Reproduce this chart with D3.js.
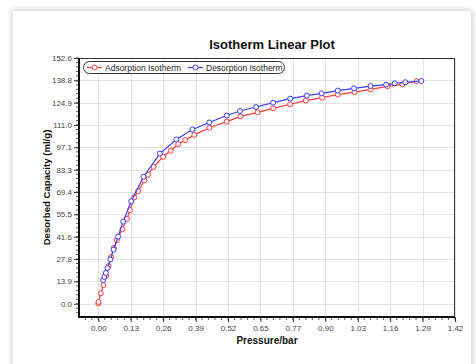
<!DOCTYPE html>
<html><head><meta charset="utf-8">
<script src="https://cdn.jsdelivr.net/npm/d3@7"></script>
<style>
html,body{margin:0;padding:0;background:#fff;width:476px;height:364px;overflow:hidden}
#card{position:absolute;left:13px;top:11px;width:458px;height:370px;background:#fff;box-shadow:0 0 6px 1px rgba(0,0,0,0.22)}
svg{position:absolute;left:0;top:0}
text{font-family:"Liberation Sans",Arial,sans-serif}
</style></head>
<body><div id="card"></div><svg id="chart" width="476" height="364"></svg>
<script>
const title = "Isotherm Linear Plot";
const xLabel = "Pressure/bar";
const yLabel = "Desorbed Capacity (ml/g)";
const seriesNames = ["Adsorption Isotherm", "Desorption Isotherm"];
const xTickLabels = ["0.00","0.13","0.26","0.39","0.52","0.65","0.77","0.90","1.03","1.16","1.29","1.42"];
const yTickLabels = ["0.0","13.9","27.8","41.6","55.5","69.4","83.3","97.1","111.0","124.9","138.8","152.6"];

const adsP = [0.000,0.001,0.010,0.021,0.031,0.041,0.051,0.062,0.074,0.096,0.114,0.126,0.143,0.159,0.183,0.198,0.220,0.258,0.288,0.318,0.346,0.382,0.442,0.511,0.566,0.634,0.696,0.764,0.826,0.891,0.953,1.020,1.084,1.151,1.211,1.267];
const adsQ = [0.2,1.1,6.5,11.6,17.2,23.4,29.0,34.6,39.5,46.3,52.7,58.1,66.0,69.9,76.6,80.1,85.0,91.3,95.0,99.1,101.6,104.9,109.3,113.1,116.4,118.9,121.4,123.9,126.2,128.0,129.9,131.5,133.2,135.0,136.3,138.2];
const desP = [0.019,0.024,0.030,0.037,0.048,0.061,0.079,0.099,0.131,0.180,0.245,0.311,0.375,0.442,0.511,0.564,0.628,0.696,0.764,0.830,0.889,0.953,1.018,1.084,1.146,1.180,1.222,1.286];
const desQ = [14.7,16.6,19.1,22.2,27.5,33.6,41.7,51.0,63.7,78.9,93.3,102.0,108.2,112.6,116.9,119.7,122.2,124.9,127.4,129.3,130.7,132.4,133.8,135.2,136.1,136.9,137.6,138.4];

const colors = ["#ff3b3b", "#3b3bff"];
const svg = d3.select("#chart");
const L = 79, R = 455, T = 58, B = 317;
const xMax = 1.42, yMax = 152.65;
const x = d3.scaleLinear().domain([-0.0768, xMax]).range([L, R]);
const y = d3.scaleLinear().domain([-8.25, yMax]).range([B, T]);
const xStep = xMax / 11, yStep = yMax / 11;
const xTicks = xTickLabels.map((d, i) => i * xStep);
const yTicks = yTickLabels.map((d, i) => i * yStep);

// grid
const g = svg.append("g");
g.selectAll("line.gx").data(xTicks).join("line")
  .attr("x1", d => Math.round(x(d)) + 0.5).attr("x2", d => Math.round(x(d)) + 0.5)
  .attr("y1", T).attr("y2", B).attr("stroke", "#e4e4e4");
g.selectAll("line.gy").data(yTicks).join("line")
  .attr("y1", d => Math.round(y(d)) + 0.5).attr("y2", d => Math.round(y(d)) + 0.5)
  .attr("x1", L).attr("x2", R).attr("stroke", "#e4e4e4");

// frame
svg.append("rect").attr("x", L + 0.5).attr("y", T + 0.5).attr("width", R - L - 1).attr("height", B - T - 1)
  .attr("fill", "none").attr("stroke", "#333").attr("stroke-width", 1);

// minor ticks
const xMinor = d3.range(-3, 56).map(i => i * xStep / 5).filter(v => x(v) >= L && x(v) <= R);
const yMinor = d3.range(-5, 56).map(i => i * yStep / 5).filter(v => y(v) <= B && y(v) >= T);
svg.selectAll("line.mx").data(xMinor).join("line")
  .attr("x1", d => x(d)).attr("x2", d => x(d)).attr("y1", B).attr("y2", B + 3)
  .attr("stroke", "#333").attr("stroke-width", 0.8);
svg.selectAll("line.my").data(yMinor).join("line")
  .attr("y1", d => y(d)).attr("y2", d => y(d)).attr("x1", L - 3).attr("x2", L)
  .attr("stroke", "#333").attr("stroke-width", 0.8);

// axes
const xAxis = d3.axisBottom(x).tickValues(xTicks).tickFormat((d, i) => xTickLabels[i]).tickSize(5).tickSizeOuter(0).tickPadding(3);
const yAxis = d3.axisLeft(y).tickValues(yTicks).tickFormat((d, i) => yTickLabels[i]).tickSize(5).tickSizeOuter(0).tickPadding(2);
const xa = svg.append("g").attr("transform", `translate(0,${B})`).call(xAxis);
const ya = svg.append("g").attr("transform", `translate(${L},0)`).call(yAxis);
[xa, ya].forEach(a => {
  a.select(".domain").remove();
  a.selectAll("line").attr("stroke", "#333");
  a.selectAll("text").attr("font-size", "8px").attr("fill", "#444").attr("font-family", '"Liberation Sans",Arial,sans-serif');
});
svg.append("line").attr("x1", L).attr("x2", R).attr("y1", B).attr("y2", B).attr("stroke", "#111").attr("stroke-width", 2);
svg.append("line").attr("x1", L).attr("x2", L).attr("y1", T).attr("y2", B + 1).attr("stroke", "#111").attr("stroke-width", 2);

// series
const series = [
  {name: seriesNames[0], p: adsP, q: adsQ, color: colors[0]},
  {name: seriesNames[1], p: desP, q: desQ, color: colors[1]}
];
const line = d3.line().x(d => x(d[0])).y(d => y(d[1]));
series.forEach(s => {
  const pts = s.p.map((v, i) => [v, s.q[i]]);
  svg.append("path").datum(pts).attr("d", line).attr("fill", "none").attr("stroke", s.color).attr("stroke-width", 1.2);
  svg.append("g").selectAll("circle").data(pts).join("circle")
    .attr("cx", d => x(d[0])).attr("cy", d => y(d[1])).attr("r", 2.5)
    .attr("fill", "#fff").attr("stroke", s.color).attr("stroke-width", 1);
});

// legend
const lg = svg.append("g");
lg.append("rect").attr("x", 83.5).attr("y", 61.5).attr("width", 201).attr("height", 12).attr("rx", 6)
  .attr("fill", "#fff").attr("stroke", "#333").attr("stroke-width", 1);
const legX = [87, 188];
series.forEach((s, i) => {
  const lx = legX[i];
  lg.append("line").attr("x1", lx).attr("x2", lx + 15).attr("y1", 67.5).attr("y2", 67.5).attr("stroke", s.color).attr("stroke-width", 1.2);
  lg.append("circle").attr("cx", lx + 7.5).attr("cy", 67.5).attr("r", 2.5).attr("fill", "#fff").attr("stroke", s.color);
  lg.append("text").attr("x", lx + 18).attr("y", 70.5).attr("font-size", "8.5px").attr("fill", "#222").text(s.name);
});

// titles
svg.append("text").attr("x", 272).attr("y", 49).attr("text-anchor", "middle")
  .attr("font-size", "13px").attr("font-weight", "bold").attr("fill", "#111").text(title);
svg.append("text").attr("x", (L + R) / 2).attr("y", 343.5).attr("text-anchor", "middle")
  .attr("font-size", "10px").attr("font-weight", "bold").attr("fill", "#111").text(xLabel);
svg.append("text").attr("transform", `translate(49.5,${(T + B) / 2}) rotate(-90)`).attr("text-anchor", "middle")
  .attr("font-size", "9.6px").attr("font-weight", "bold").attr("fill", "#111").text(yLabel);
</script></body></html>
